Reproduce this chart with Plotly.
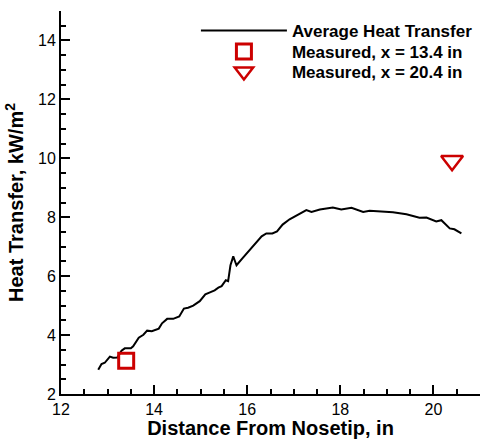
import plotly.graph_objects as go

# Average heat transfer curve
dist_in = [12.80, 12.87, 12.94, 13.05, 13.12, 13.21, 13.30, 13.37, 13.50, 13.55,
           13.67, 13.77, 13.85, 13.95, 14.10, 14.17, 14.28, 14.41, 14.54, 14.64,
           14.73, 14.84, 14.98, 15.10, 15.20, 15.30, 15.38, 15.45, 15.54, 15.59,
           15.64, 15.70, 15.73, 15.77, 15.91, 16.09, 16.31, 16.41, 16.54, 16.64,
           16.76, 16.91, 17.11, 17.27, 17.38, 17.56, 17.84, 18.02, 18.24, 18.34,
           18.49, 18.63, 18.84, 19.13, 19.42, 19.70, 19.85, 19.99, 20.06, 20.17,
           20.28, 20.35, 20.45, 20.60]
avg_heat = [2.82, 3.02, 3.06, 3.27, 3.23, 3.24, 3.47, 3.55, 3.55, 3.62,
            3.91, 4.01, 4.15, 4.13, 4.22, 4.40, 4.55, 4.55, 4.63, 4.90,
            4.93, 5.00, 5.15, 5.38, 5.45, 5.52, 5.61, 5.66, 5.86, 5.83,
            6.37, 6.67, 6.54, 6.37, 6.63, 6.94, 7.35, 7.45, 7.45, 7.52,
            7.75, 7.93, 8.09, 8.24, 8.18, 8.26, 8.33, 8.26, 8.32, 8.27,
            8.18, 8.22, 8.19, 8.17, 8.10, 7.98, 7.99, 7.92, 7.86, 7.90,
            7.73, 7.62, 7.59, 7.45]

meas1_x = [13.4]
meas1_y = [3.13]
meas2_x = [20.4]
meas2_y = [9.92]

x_ticks = [12, 14, 16, 18, 20]
y_ticks = [2, 4, 6, 8, 10, 12, 14]

RED = "#CC0000"
FONT = "Liberation Sans, Arial, sans-serif"

fig = go.Figure()
fig.add_trace(go.Scatter(x=dist_in, y=avg_heat, mode="lines",
                         line=dict(color="black", width=2),
                         name="Average Heat Transfer", legend="legend"))
fig.add_trace(go.Scatter(x=meas1_x, y=meas1_y, mode="markers",
                         marker=dict(symbol="square-open", size=15, color=RED,
                                     line=dict(color=RED, width=3)),
                         name="Measured, x = 13.4 in", legend="legend2"))
fig.add_trace(go.Scatter(x=meas2_x, y=meas2_y, mode="markers",
                         marker=dict(symbol="triangle-down-open", size=19, color=RED,
                                     line=dict(color=RED, width=2.5)),
                         name="Measured, x = 20.4 in", legend="legend3"))

axis_common = dict(showline=True, linecolor="black", linewidth=2, mirror=False,
                   showgrid=False, zeroline=False, ticks="inside", ticklen=9,
                   tickwidth=2, tickcolor="black",
                   tickfont=dict(family=FONT, size=16, color="black"),
                   minor=dict(ticks="inside", ticklen=5, tickwidth=1.5,
                              tickcolor="black", dtick=0.5, showgrid=False))

fig.update_xaxes(range=[12, 21], tickvals=x_ticks,
                 title=dict(text="Distance From Nosetip, in", standoff=0,
                            font=dict(family=FONT, size=20, color="black", weight="bold")),
                 **axis_common)
fig.update_yaxes(range=[2, 15], tickvals=y_ticks,
                 title=dict(text="Heat Transfer, kW/m<sup>2</sup>", standoff=9,
                            font=dict(family=FONT, size=20, color="black", weight="bold")),
                 **axis_common)

legend_style = dict(x=0.322, xanchor="left", yanchor="middle",
                    bgcolor="rgba(0,0,0,0)", itemwidth=86,
                    font=dict(family=FONT, size=17, color="black", weight="bold"))

fig.update_layout(width=480, height=439,
                  margin=dict(l=61, r=0, t=11, b=45),
                  plot_bgcolor="white", paper_bgcolor="white",
                  showlegend=True,
                  legend=dict(y=0.948, **legend_style),
                  legend2=dict(y=0.893, **legend_style),
                  legend3=dict(y=0.841, **legend_style))

fig.write_html("out.html", config={"displayModeBar": False},
               post_script="document.body.style.margin='0px';document.body.style.overflow='hidden';")
